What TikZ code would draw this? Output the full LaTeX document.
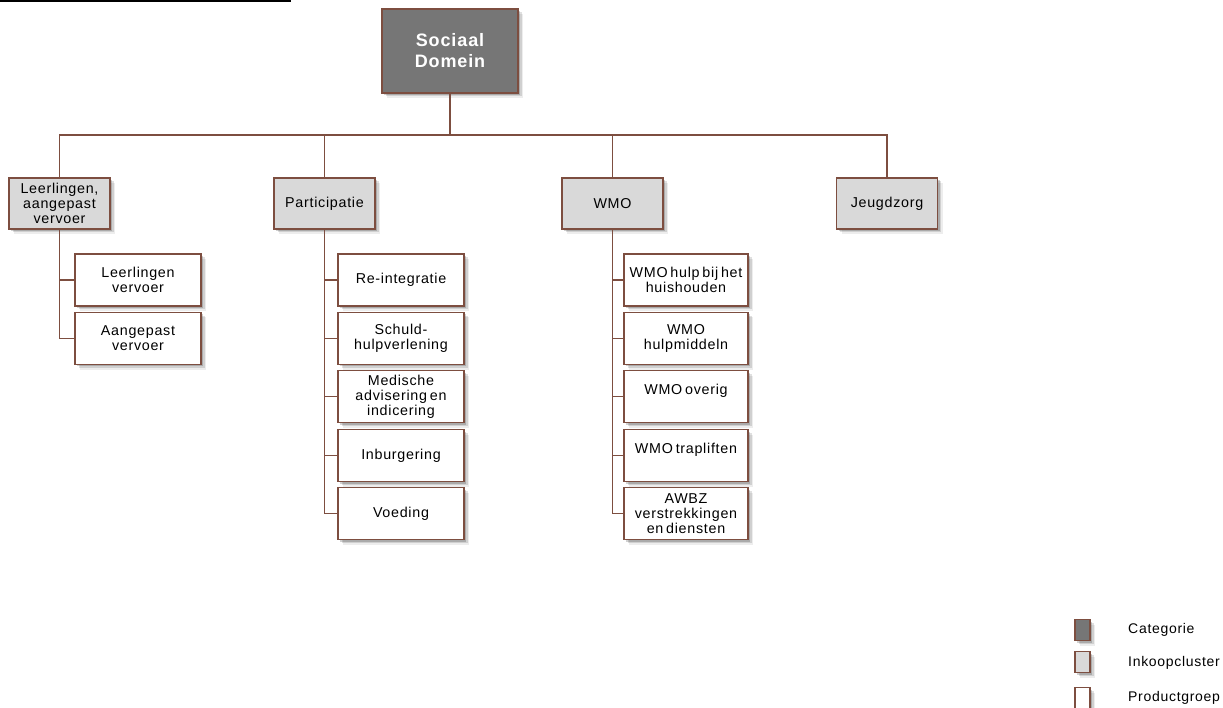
\documentclass[tikz,border=0pt]{standalone}
\usepackage{fontspec}
\setmainfont{Liberation Sans}
\newfontfamily\boxfont[LetterSpace=5,WordSpace=0.6]{Liberation Sans}
\usetikzlibrary{shadows}
\definecolor{edgebrown}{HTML}{7D4E40}
\definecolor{catfill}{HTML}{767676}
\definecolor{clusterfill}{HTML}{D9D9D9}
\tikzset{
  softshadow/.style={
    drop shadow={shadow xshift=5pt,shadow yshift=-5pt,opacity=0.07,fill=black},
    drop shadow={shadow xshift=3.5pt,shadow yshift=-3.5pt,opacity=0.12,fill=black},
    drop shadow={shadow xshift=2pt,shadow yshift=-2pt,opacity=0.18,fill=black}},
  basebox/.style={draw=edgebrown,line width=1.2pt,softshadow,align=center,
    inner sep=1pt,text=black,font=\boxfont\fontsize{14.3}{15}\selectfont},
  catbox/.style={basebox,fill=catfill,minimum width=136pt,minimum height=84pt,
    text=white,font=\boxfont\bfseries\fontsize{18}{21}\selectfont},
  clusterbox/.style={basebox,fill=clusterfill,minimum width=101pt,minimum height=51pt},
  prodbox/.style={basebox,fill=white,minimum width=126pt,minimum height=52pt},
  wmobox/.style={prodbox,minimum width=124pt},
  legendbox/.style={draw=edgebrown,line width=1.2pt,softshadow,minimum width=15pt,
    minimum height=21pt,inner sep=0pt},
  legendtext/.style={anchor=west,inner sep=0pt,font=\boxfont\fontsize{14}{15}\selectfont},
  link/.style={draw=edgebrown,line width=1.1pt}
}
\begin{document}
\begin{tikzpicture}[x=1pt,y=-1pt]
\useasboundingbox (0,0) rectangle (1223,708);

% rule at the top edge
\coordinate (ruleL) at (0,1);
\coordinate (ruleR) at (291,1);
\draw[black,line width=1.6pt] (ruleL) -- (ruleR);

% category
\node[catbox] (root) at (450,51) {Sociaal\\Domein};

% purchasing clusters
\node[clusterbox] (c1) at (59.5,203.5) {Leerlingen,\\aangepast\\vervoer};
\node[clusterbox] (c2) at (324.5,203.5) {Participatie};
\node[clusterbox] (c3) at (612.5,203.5) {WMO};
\node[clusterbox] (c4) at (887,203.5) {Jeugdzorg};

% product groups: pupil transport
\node[prodbox] (l1) at (138,280) {Leerlingen\\vervoer};
\node[prodbox] (l2) at (138,338.5) {Aangepast\\vervoer};

% product groups: participation
\node[prodbox] (p1) at (401,280) {Re-integratie};
\node[prodbox] (p2) at (401,338.5) {Schuld-\\hulpverlening};
\node[prodbox] (p3) at (401,396.5) {Medische\\advisering en\\indicering};
\node[prodbox] (p4) at (401,455.5) {Inburgering};
\node[prodbox] (p5) at (401,513.5) {Voeding};

% product groups: WMO
\node[wmobox] (w1) at (686,280) {WMO hulp bij het\\huishouden};
\node[wmobox] (w2) at (686,338.5) {WMO\\hulpmiddeln};
\node[wmobox] (w3) at (686,396.5) {WMO overig\\\mbox{}};
\node[wmobox] (w4) at (686,455.5) {WMO trapliften\\\mbox{}};
\node[wmobox] (w5) at (686,513.5) {AWBZ\\verstrekkingen\\en diensten};

% connectors
\coordinate (bus) at (450,135);
\draw[link] (root.south) -- (bus);
\foreach \c in {c1,c2,c3,c4} \draw[link] (bus) -| (\c.north);
\foreach \p in {l1,l2} \draw[link] (c1.south) |- (\p.west);
\foreach \p in {p1,p2,p3,p4,p5} \draw[link] (c2.south) |- (\p.west);
\foreach \p in {w1,w2,w3,w4,w5} \draw[link] (c3.south) |- (\p.west);

% legend
\node[legendbox,fill=catfill] (k1) at (1082.5,630) {};
\node[legendbox,fill=clusterfill] (k2) at (1082.5,662) {};
\node[legendbox,fill=white] (k3) at (1082.5,698) {};
\node[legendtext] (t1) at (1128,630) {Categorie};
\node[legendtext] (t2) at (1128,663) {Inkoopcluster};
\node[legendtext] (t3) at (1128,698) {Productgroep};
\end{tikzpicture}
\end{document}
